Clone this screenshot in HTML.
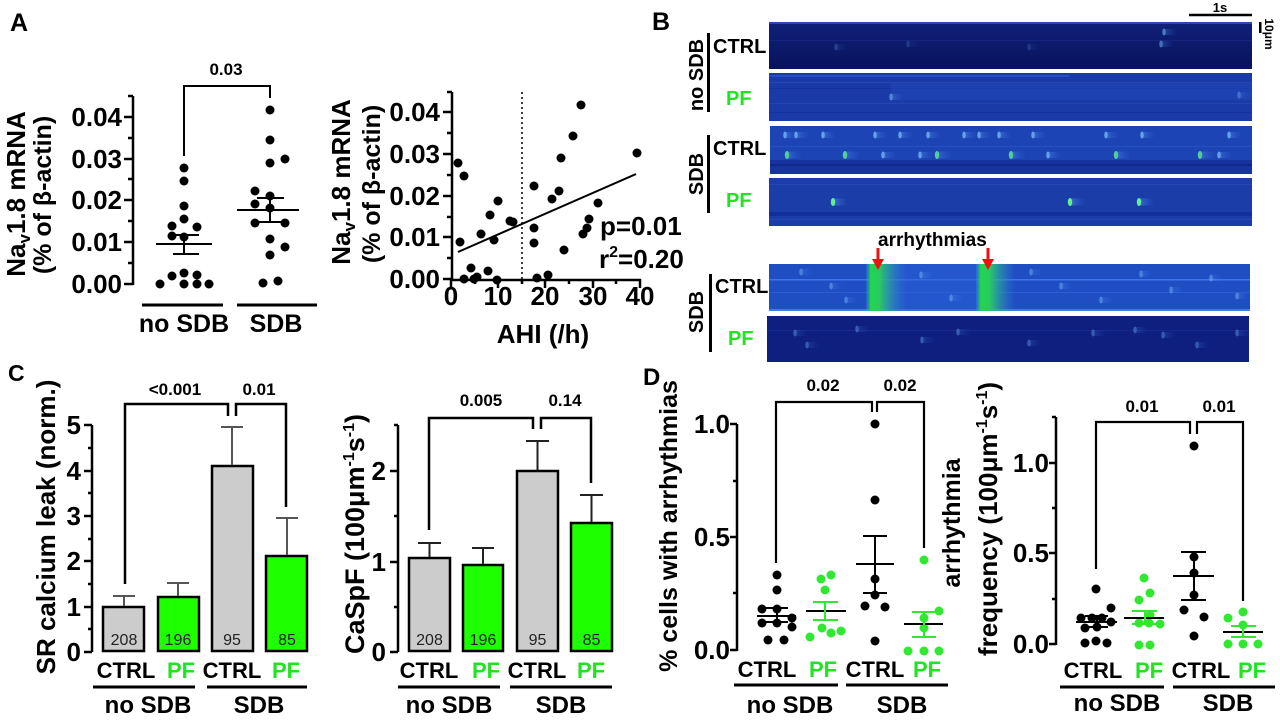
<!DOCTYPE html>
<html><head><meta charset="utf-8">
<style>
html,body{margin:0;padding:0;background:#fff;}
svg{display:block;}
text{font-family:"Liberation Sans",Arial,sans-serif;font-weight:bold;fill:#000;}
.g{fill:#22e322;}
.n{font-weight:normal;fill:#222;font-size:16px;}
</style></head><body>
<svg width="1280" height="720" viewBox="0 0 1280 720" xmlns="http://www.w3.org/2000/svg">
<defs>
<linearGradient id="tl" x1="0" x2="1"><stop offset="0" stop-color="#70b0ff" stop-opacity=".45"/><stop offset="1" stop-color="#4080ff" stop-opacity="0"/></linearGradient>
<g id="sp"><rect x="0" y="-3" width="14" height="6" fill="url(#tl)"/><ellipse cx="1" cy="0" rx="1.8" ry="3.5" fill="#7cc4ff" opacity=".85"/></g>
<g id="spg"><rect x="0" y="-3.5" width="16" height="7" fill="url(#tl)"/><ellipse cx="1" cy="0" rx="2.2" ry="4" fill="#60f090"/></g>
<linearGradient id="band" x1="0" x2="1"><stop offset="0" stop-color="#30a0e0" stop-opacity="0.2"/><stop offset=".12" stop-color="#20d848"/><stop offset=".35" stop-color="#28c868"/><stop offset="1" stop-color="#3080e0" stop-opacity="0"/></linearGradient>
<linearGradient id="i1" x1="0" y1="0" x2="0" y2="1"><stop offset="0" stop-color="#11217a"/><stop offset="1" stop-color="#08135c"/></linearGradient>
</defs>

<!-- Panel labels -->
<text x="10" y="31" font-size="25">A</text>
<text x="652" y="30" font-size="25">B</text>
<text x="8" y="381" font-size="23">C</text>
<text x="643" y="385" font-size="24">D</text>

<!-- ============ Panel A left ============ -->
<g stroke="#000" stroke-width="2.5" fill="none">
<path d="M133,96 V285"/>
<path d="M124,117 H133 M124,159 H133 M124,200 H133 M124,242 H133 M124,284 H133"/>
<path d="M128,96 H133 M128,138 H133 M128,179 H133 M128,221 H133 M128,263 H133"/>
<path d="M142,305 H223 M237,305 H317" stroke-width="3"/>
<path d="M184,156 V86 H270 V98" stroke-width="2"/>
</g>
<g font-size="26" text-anchor="end">
<text x="122" y="126">0.04</text><text x="122" y="168">0.03</text><text x="122" y="209">0.02</text><text x="122" y="251">0.01</text><text x="122" y="293">0.00</text>
</g>
<text transform="translate(25,194) rotate(-90)" text-anchor="middle" font-size="26">Na<tspan font-size="17" dy="5">v</tspan><tspan dy="-5">1.8 mRNA</tspan></text>
<text transform="translate(51,195) rotate(-90)" text-anchor="middle" font-size="25">(% of β-actin)</text>
<text x="226" y="75" font-size="17" text-anchor="middle">0.03</text>
<text x="184" y="332" font-size="25" text-anchor="middle">no SDB</text>
<text x="276" y="332" font-size="25" text-anchor="middle">SDB</text>
<g fill="#000">
<circle cx="184" cy="168" r="4.5"/><circle cx="184" cy="181" r="4.5"/><circle cx="184" cy="206" r="4.5"/><circle cx="184" cy="219" r="4.5"/><circle cx="172" cy="226" r="4.5"/><circle cx="197" cy="227" r="4.5"/><circle cx="172" cy="236" r="4.5"/><circle cx="184" cy="237" r="4.5"/><circle cx="172" cy="276" r="4.5"/><circle cx="184" cy="273" r="4.5"/><circle cx="197" cy="275" r="4.5"/><circle cx="160" cy="284" r="4.5"/><circle cx="184" cy="284" r="4.5"/><circle cx="197" cy="284" r="4.5"/><circle cx="209" cy="284" r="4.5"/>
<circle cx="270" cy="110" r="4.5"/><circle cx="270" cy="140" r="4.5"/><circle cx="270" cy="163" r="4.5"/><circle cx="285" cy="159" r="4.5"/><circle cx="255" cy="191" r="4.5"/><circle cx="270" cy="196" r="4.5"/><circle cx="255" cy="204" r="4.5"/><circle cx="270" cy="208" r="4.5"/><circle cx="255" cy="223" r="4.5"/><circle cx="285" cy="223" r="4.5"/><circle cx="270" cy="239" r="4.5"/><circle cx="285" cy="247" r="4.5"/><circle cx="270" cy="255" r="4.5"/><circle cx="263" cy="283" r="4.5"/><circle cx="278" cy="281" r="4.5"/>
</g>
<g stroke="#000" stroke-width="2" fill="none">
<path d="M156,244 H212 M173,235 H199 M173,254 H199 M184,235 V254"/>
<path d="M237,210 H299 M257,198 H284 M257,222 H284 M270,198 V222"/>
</g>

<!-- ============ Panel A right ============ -->
<g stroke="#000" stroke-width="2.5" fill="none">
<path d="M452,92 V280 H641"/>
<path d="M443,112 H452 M443,154 H452 M443,196 H452 M443,237 H452 M443,279 H452"/>
<path d="M447,92 H452 M447,133 H452 M447,175 H452 M447,217 H452 M447,258 H452"/>
<path d="M451,279 V288 M498,279 V288 M545,279 V288 M593,279 V288 M640,279 V288"/>
<path d="M475,279 V284 M522,279 V284 M569,279 V284 M616,279 V284"/>
<path d="M458,252 L636,174" stroke-width="2"/>
<path d="M522,92 V279" stroke-width="1.5" stroke-dasharray="2,3"/>
</g>
<g font-size="26" text-anchor="end">
<text x="440" y="121">0.04</text><text x="440" y="163">0.03</text><text x="440" y="205">0.02</text><text x="440" y="246">0.01</text><text x="440" y="288">0.00</text>
</g>
<g font-size="26" text-anchor="middle">
<text x="451" y="305">0</text><text x="498" y="305">10</text><text x="545" y="305">20</text><text x="593" y="305">30</text><text x="640" y="305">40</text>
</g>
<text x="543" y="343" font-size="26" text-anchor="middle">AHI (/h)</text>
<text transform="translate(350,182) rotate(-90)" text-anchor="middle" font-size="26">Na<tspan font-size="17" dy="5">v</tspan><tspan dy="-5">1.8 mRNA</tspan></text>
<text transform="translate(380,184) rotate(-90)" text-anchor="middle" font-size="25">(% of β-actin)</text>
<text x="600" y="235" font-size="26">p=0.01</text>
<text x="599" y="268" font-size="26">r<tspan font-size="16" dy="-11">2</tspan><tspan dy="11">=0.20</tspan></text>
<g fill="#000">
<circle cx="458" cy="163" r="4.5"/><circle cx="464" cy="176" r="4.5"/><circle cx="460" cy="242" r="4.5"/><circle cx="471" cy="268" r="4.5"/><circle cx="464" cy="279" r="4.5"/><circle cx="474" cy="279" r="4.5"/><circle cx="477" cy="277" r="4.5"/><circle cx="488" cy="271" r="4.5"/><circle cx="497" cy="280" r="4.5"/><circle cx="481" cy="234" r="4.5"/><circle cx="490" cy="215" r="4.5"/><circle cx="494" cy="240" r="4.5"/><circle cx="498" cy="201" r="4.5"/><circle cx="510" cy="221" r="4.5"/><circle cx="513" cy="222" r="4.5"/><circle cx="534" cy="186" r="4.5"/><circle cx="534" cy="228" r="4.5"/><circle cx="534" cy="243" r="4.5"/><circle cx="537" cy="278" r="4.5"/><circle cx="548" cy="275" r="4.5"/><circle cx="552" cy="199" r="4.5"/><circle cx="559" cy="191" r="4.5"/><circle cx="561" cy="158" r="4.5"/><circle cx="564" cy="250" r="4.5"/><circle cx="573" cy="136" r="4.5"/><circle cx="581" cy="105" r="4.5"/><circle cx="583" cy="234" r="4.5"/><circle cx="587" cy="228" r="4.5"/><circle cx="589" cy="219" r="4.5"/><circle cx="598" cy="203" r="4.5"/><circle cx="637" cy="153" r="4.5"/>
</g>

<!-- ============ Panel B ============ -->
<!-- image 1 -->
<rect x="769" y="22" width="483" height="47" fill="url(#i1)"/>
<rect x="769" y="22" width="483" height="2" fill="#2a48b0"/>
<rect x="769" y="40" width="483" height="1" fill="#1a2c88" opacity=".6"/>
<use href="#sp" x="1163" y="32" opacity=".6"/><use href="#sp" x="1160" y="44" opacity=".55"/>
<use href="#sp" x="835" y="47" opacity=".25"/><use href="#sp" x="907" y="44" opacity=".2"/><use href="#sp" x="1028" y="47" opacity=".2"/>
<!-- image 2 -->
<rect x="769" y="73" width="483" height="48" fill="#1a3aa8"/>
<rect x="769" y="75" width="300" height="2" fill="#3058c8" opacity=".7"/>
<rect x="769" y="82" width="483" height="1" fill="#2a50c0" opacity=".6"/>
<rect x="769" y="88" width="483" height="1" fill="#12309a" opacity=".7"/>
<rect x="769" y="103" width="483" height="1" fill="#2a50c0" opacity=".5"/>
<rect x="769" y="112" width="483" height="1" fill="#12309a" opacity=".7"/>
<rect x="891" y="82" width="361" height="18" fill="#2048b8" opacity=".5"/>
<use href="#sp" x="890" y="97" opacity=".6"/><use href="#sp" x="1238" y="95" opacity=".4"/>
<!-- image 3 -->
<rect x="770" y="126" width="482" height="48" fill="#1d44b4"/>
<rect x="770" y="160" width="482" height="14" fill="#1733a0"/>
<rect x="770" y="164" width="482" height="2" fill="#10288a"/>
<rect x="770" y="146" width="482" height="1" fill="#2a58c8" opacity=".6"/>
<g opacity=".8">
<use href="#sp" x="784" y="135"/><use href="#sp" x="795" y="135"/><use href="#sp" x="822" y="135"/><use href="#sp" x="874" y="135"/><use href="#sp" x="899" y="135"/><use href="#sp" x="927" y="135"/><use href="#sp" x="963" y="135"/><use href="#sp" x="978" y="135"/><use href="#sp" x="998" y="135"/><use href="#sp" x="1032" y="135"/><use href="#sp" x="1105" y="135"/><use href="#sp" x="1141" y="135"/><use href="#sp" x="1228" y="135"/>
<use href="#spg" x="786" y="155"/><use href="#spg" x="844" y="155"/><use href="#sp" x="882" y="155"/><use href="#sp" x="919" y="155"/><use href="#spg" x="936" y="155"/><use href="#spg" x="1010" y="155"/><use href="#sp" x="1047" y="155"/><use href="#spg" x="1115" y="155"/><use href="#spg" x="1199" y="155"/><use href="#sp" x="1218" y="155"/>
</g>
<!-- image 4 -->
<rect x="769" y="178" width="483" height="48" fill="#1b3da8"/>
<rect x="769" y="184" width="483" height="1" fill="#2a50c0" opacity=".6"/>
<rect x="769" y="212" width="483" height="4" fill="#13309a"/>
<rect x="769" y="219" width="483" height="1" fill="#2a50c0" opacity=".6"/>
<use href="#spg" x="832" y="202"/><use href="#spg" x="1069" y="202"/><use href="#spg" x="1138" y="202"/>
<!-- image 5 -->
<rect x="769" y="264" width="481" height="47" fill="#1f4dc2"/>
<rect x="769" y="279" width="481" height="1.5" fill="#4a86ff" opacity=".7"/>
<rect x="769" y="292" width="481" height="1" fill="#2f62d8" opacity=".7"/>
<rect x="769" y="309" width="481" height="2" fill="#3a80e0"/>
<rect x="885" y="264" width="100" height="47" fill="#2a62d8" opacity=".5"/>
<rect x="866" y="264" width="40" height="47" fill="url(#band)"/>
<rect x="976" y="264" width="40" height="47" fill="url(#band)"/>
<g opacity=".5">
<use href="#sp" x="800" y="272"/><use href="#sp" x="830" y="286"/><use href="#sp" x="845" y="300"/><use href="#sp" x="920" y="275"/><use href="#sp" x="950" y="298"/><use href="#sp" x="1030" y="272"/><use href="#sp" x="1060" y="286"/><use href="#sp" x="1100" y="300"/><use href="#sp" x="1140" y="274"/><use href="#sp" x="1170" y="290"/><use href="#sp" x="1210" y="278"/><use href="#sp" x="1236" y="296"/>
</g>
<!-- image 6 -->
<rect x="767" y="316" width="482" height="46" fill="#0e1f80"/>
<rect x="767" y="330" width="482" height="1" fill="#1a3098" opacity=".6"/>
<g opacity=".4">
<use href="#sp" x="794" y="333"/><use href="#sp" x="806" y="345"/><use href="#sp" x="856" y="329"/><use href="#sp" x="921" y="340"/><use href="#sp" x="957" y="332"/><use href="#sp" x="1028" y="343"/><use href="#sp" x="1092" y="333"/><use href="#sp" x="1134" y="330"/><use href="#sp" x="1162" y="335"/><use href="#sp" x="1196" y="345"/><use href="#sp" x="1236" y="333"/>
</g>
<!-- B labels -->
<text transform="translate(703,75) rotate(-90)" text-anchor="middle" font-size="20">no SDB</text>
<rect x="707" y="33" width="3" height="79" fill="#000"/>
<text x="713" y="53" font-size="20">CTRL</text>
<text x="726" y="105" font-size="20" class="g">PF</text>
<text transform="translate(703,174) rotate(-90)" text-anchor="middle" font-size="20">SDB</text>
<rect x="707" y="135" width="3" height="78" fill="#000"/>
<text x="713" y="155" font-size="20">CTRL</text>
<text x="726" y="207" font-size="20" class="g">PF</text>
<text transform="translate(703,312) rotate(-90)" text-anchor="middle" font-size="20">SDB</text>
<rect x="709" y="274" width="3" height="78" fill="#000"/>
<text x="715" y="293" font-size="20">CTRL</text>
<text x="728" y="345" font-size="20" class="g">PF</text>
<text x="878" y="246" font-size="19">arrhythmias</text>
<g fill="#ee1111">
<rect x="876.5" y="248" width="3" height="12"/><polygon points="872,259 884,259 878,270"/>
<rect x="986.5" y="248" width="3" height="12"/><polygon points="982,259 994,259 988,270"/>
</g>
<path d="M1189,15 H1252" stroke="#000" stroke-width="2.5"/>
<text x="1220" y="12" font-size="13" text-anchor="middle">1s</text>
<rect x="1259" y="22" width="2.5" height="11" fill="#000"/>
<text transform="translate(1265,34) rotate(90)" text-anchor="middle" font-size="12">10μm</text>

<!-- ============ Panel C left ============ -->
<g stroke="#000" stroke-width="2.5" fill="none">
<path d="M92,425 V652"/>
<path d="M84,425 H92 M84,471 H92 M84,516 H92 M84,561 H92 M84,607 H92 M84,652 H92"/>
<path d="M88,448 H92 M88,493 H92 M88,539 H92 M88,584 H92 M88,629 H92"/>
<path d="M93,687 H195 M207,687 H307" stroke-width="3"/>
<path d="M125,584 V404 H228 V416 M236,416 V404 H286 V507"/>
</g>
<g stroke="#000" stroke-width="2.5">
<rect x="103" y="607" width="41" height="44" fill="#cccccc"/>
<rect x="158" y="597" width="41" height="54" fill="#1eff00"/>
<rect x="212" y="466" width="41" height="185" fill="#cccccc"/>
<rect x="266" y="556" width="41" height="95" fill="#1eff00"/>
</g>
<g stroke="#555" stroke-width="2" fill="none">
<path d="M124,606 V596 M113,596 H135"/>
<path d="M178,596 V583 M167,583 H189"/>
<path d="M232,465 V427 M221,427 H243"/>
<path d="M287,555 V518 M276,518 H298"/>
</g>
<g font-size="26" text-anchor="end">
<text x="81" y="434">5</text><text x="81" y="480">4</text><text x="81" y="525">3</text><text x="81" y="570">2</text><text x="81" y="616">1</text><text x="81" y="661">0</text>
</g>
<g text-anchor="middle">
<text class="n" x="124" y="645">208</text><text class="n" x="178" y="645">196</text><text class="n" x="232" y="645">95</text><text class="n" x="287" y="645">85</text>
<text x="175" y="395" font-size="17">&lt;0.001</text><text x="259" y="395" font-size="17">0.01</text>
<text x="126" y="678" font-size="22">CTRL</text><text x="181" y="678" font-size="22" class="g">PF</text><text x="232" y="678" font-size="22">CTRL</text><text x="286" y="678" font-size="22" class="g">PF</text>
<text x="148" y="713" font-size="24">no SDB</text><text x="259" y="713" font-size="24">SDB</text>
</g>
<text transform="translate(55,527) rotate(-90)" text-anchor="middle" font-size="26">SR calcium leak (norm.)</text>

<!-- ============ Panel C right ============ -->
<g stroke="#000" stroke-width="2.5" fill="none">
<path d="M398,425 V652"/>
<path d="M390,471 H398 M390,562 H398 M390,652 H398"/>
<path d="M394,425 H398 M394,516 H398 M394,607 H398"/>
<path d="M398,687 H500 M510,687 H612" stroke-width="3"/>
<path d="M429,530 V418 H533 V429 M541,429 V418 H591 V483"/>
</g>
<g stroke="#000" stroke-width="2.5">
<rect x="409" y="558" width="41" height="93" fill="#cccccc"/>
<rect x="463" y="565" width="40" height="86" fill="#1eff00"/>
<rect x="517" y="471" width="41" height="180" fill="#cccccc"/>
<rect x="571" y="523" width="41" height="128" fill="#1eff00"/>
</g>
<g stroke="#222" stroke-width="2" fill="none">
<path d="M429.5,557 V543 M418,543 H441"/>
<path d="M483,564 V548 M472,548 H494"/>
<path d="M537.5,470 V441 M526,441 H549"/>
<path d="M591.5,522 V495 M580,495 H603"/>
</g>
<g font-size="26" text-anchor="end">
<text x="386" y="480">2</text><text x="386" y="571">1</text><text x="386" y="661">0</text>
</g>
<g text-anchor="middle">
<text class="n" x="429.5" y="645">208</text><text class="n" x="483" y="645">196</text><text class="n" x="537.5" y="645">95</text><text class="n" x="591.5" y="645">85</text>
<text x="481" y="406" font-size="17">0.005</text><text x="565" y="406" font-size="17">0.14</text>
<text x="429" y="678" font-size="22">CTRL</text><text x="486" y="678" font-size="22" class="g">PF</text><text x="537" y="678" font-size="22">CTRL</text><text x="591" y="678" font-size="22" class="g">PF</text>
<text x="449" y="713" font-size="24">no SDB</text><text x="561" y="713" font-size="24">SDB</text>
</g>
<text transform="translate(364,534) rotate(-90)" text-anchor="middle" font-size="27">CaSpF (100μm<tspan font-size="16" dy="-10">-1</tspan><tspan dy="10">s</tspan><tspan font-size="16" dy="-10">-1</tspan><tspan dy="10">)</tspan></text>

<!-- ============ Panel D left ============ -->
<g stroke="#000" stroke-width="2.5" fill="none">
<path d="M737,424 V651"/>
<path d="M730,424 H737 M730,537 H737 M730,650 H737"/>
<path d="M733,481 H737 M733,593 H737"/>
<path d="M734,685 H838 M846,685 H948" stroke-width="3"/>
<path d="M776,563 V402 H872 V412 M877,412 V402 H924 V548" stroke-width="2.2"/>
</g>
<g font-size="26" text-anchor="end">
<text x="730" y="433">1.0</text><text x="730" y="546">0.5</text><text x="730" y="659">0.0</text>
</g>
<g fill="#000">
<circle cx="777" cy="575" r="4.5"/><circle cx="777" cy="590" r="4.5"/><circle cx="762" cy="609" r="4.5"/><circle cx="777" cy="609" r="4.5"/><circle cx="762" cy="623" r="4.5"/><circle cx="792" cy="618" r="4.5"/><circle cx="777" cy="623" r="4.5"/><circle cx="792" cy="627" r="4.5"/><circle cx="768" cy="640" r="4.5"/><circle cx="784" cy="640" r="4.5"/>
<circle cx="875" cy="424" r="4.5"/><circle cx="875" cy="500" r="4.5"/><circle cx="875" cy="579" r="4.5"/><circle cx="875" cy="595" r="4.5"/><circle cx="865" cy="606" r="4.5"/><circle cx="885" cy="607" r="4.5"/><circle cx="875" cy="641" r="4.5"/>
</g>
<g fill="#30e830">
<circle cx="821" cy="579" r="4.5"/><circle cx="831" cy="575" r="4.5"/><circle cx="825" cy="590" r="4.5"/><circle cx="810" cy="637" r="4.5"/><circle cx="822" cy="628" r="4.5"/><circle cx="831" cy="633" r="4.5"/><circle cx="841" cy="631" r="4.5"/>
<circle cx="924" cy="560" r="4.5"/><circle cx="924" cy="618" r="4.5"/><circle cx="939" cy="611" r="4.5"/><circle cx="924" cy="628" r="4.5"/><circle cx="908" cy="651" r="4.5"/><circle cx="924" cy="651" r="4.5"/><circle cx="939" cy="651" r="4.5"/>
</g>
<g stroke="#000" stroke-width="2" fill="none">
<path d="M757,616 H796 M765,608 H788 M765,622 H788 M777,608 V622"/>
<path d="M856,564 H894 M863,536 H887 M863,593 H887 M875,536 V593"/>
<path d="M806,611 H846"/><path d="M904,624 H943"/>
</g>
<g stroke="#30e830" stroke-width="2" fill="none">
<path d="M813,602 H838 M813,620 H838 M825,602 V620"/>
<path d="M912,612 H936 M912,637 H936 M924,612 V637"/>
</g>
<g text-anchor="middle">
<text x="823" y="391" font-size="17">0.02</text><text x="900" y="391" font-size="17">0.02</text>
<text x="767" y="677" font-size="22">CTRL</text><text x="823" y="677" font-size="22" class="g">PF</text><text x="875" y="677" font-size="22">CTRL</text><text x="927" y="677" font-size="22" class="g">PF</text>
<text x="790" y="713" font-size="24">no SDB</text><text x="902" y="713" font-size="24">SDB</text>
</g>
<text transform="translate(677,526) rotate(-90)" text-anchor="middle" font-size="25">% cells with arrhythmias</text>

<!-- ============ Panel D right ============ -->
<g stroke="#000" stroke-width="2.5" fill="none">
<path d="M1056,417 V645"/>
<path d="M1049,463 H1056 M1049,553 H1056 M1049,644 H1056"/>
<path d="M1052,417 H1056 M1052,508 H1056 M1052,599 H1056"/>
<path d="M1060,687 H1164 M1173,687 H1275" stroke-width="3"/>
<path d="M1096,569 V422 H1190 V434 M1197,434 V422 H1243 V601" stroke-width="2.2"/>
</g>
<g font-size="26" text-anchor="end">
<text x="1049" y="472">1.0</text><text x="1049" y="562">0.5</text><text x="1049" y="653">0.0</text>
</g>
<g fill="#000">
<circle cx="1096" cy="589" r="4.5"/><circle cx="1111" cy="608" r="4.5"/><circle cx="1081" cy="618" r="4.5"/><circle cx="1092" cy="618" r="4.5"/><circle cx="1102" cy="618" r="4.5"/><circle cx="1111" cy="622" r="4.5"/><circle cx="1085" cy="628" r="4.5"/><circle cx="1097" cy="627" r="4.5"/><circle cx="1085" cy="643" r="4.5"/><circle cx="1096" cy="641" r="4.5"/><circle cx="1107" cy="643" r="4.5"/>
<circle cx="1194" cy="446" r="4.5"/><circle cx="1194" cy="557" r="4.5"/><circle cx="1194" cy="573" r="4.5"/><circle cx="1194" cy="595" r="4.5"/><circle cx="1184" cy="610" r="4.5"/><circle cx="1204" cy="617" r="4.5"/><circle cx="1194" cy="636" r="4.5"/>
</g>
<g fill="#30e830">
<circle cx="1144" cy="578" r="4.5"/><circle cx="1150" cy="593" r="4.5"/><circle cx="1139" cy="600" r="4.5"/><circle cx="1150" cy="615" r="4.5"/><circle cx="1139" cy="623" r="4.5"/><circle cx="1160" cy="624" r="4.5"/><circle cx="1149" cy="623" r="4.5"/><circle cx="1139" cy="645" r="4.5"/><circle cx="1150" cy="645" r="4.5"/>
<circle cx="1228" cy="618" r="4.5"/><circle cx="1243" cy="612" r="4.5"/><circle cx="1243" cy="625" r="4.5"/><circle cx="1228" cy="644" r="4.5"/><circle cx="1243" cy="644" r="4.5"/><circle cx="1258" cy="644" r="4.5"/>
</g>
<g stroke="#000" stroke-width="2" fill="none">
<path d="M1076,622 H1117 M1085,616 H1108 M1085,627 H1108 M1097,616 V627"/>
<path d="M1173,576 H1214 M1181,552 H1206 M1181,600 H1206 M1194,552 V600"/>
<path d="M1124,618 H1164"/><path d="M1223,632 H1263"/>
</g>
<g stroke="#30e830" stroke-width="2" fill="none">
<path d="M1132,611 H1157 M1132,624 H1157 M1145,611 V624"/>
<path d="M1231,626 H1256 M1231,637 H1256 M1243,626 V637"/>
</g>
<g text-anchor="middle">
<text x="1142" y="412" font-size="17">0.01</text><text x="1219" y="412" font-size="17">0.01</text>
<text x="1093" y="678" font-size="22">CTRL</text><text x="1149" y="678" font-size="22" class="g">PF</text><text x="1201" y="678" font-size="22">CTRL</text><text x="1252" y="678" font-size="22" class="g">PF</text>
<text x="1117" y="711" font-size="24">no SDB</text><text x="1228" y="711" font-size="24">SDB</text>
</g>
<text transform="translate(960,523) rotate(-90)" text-anchor="middle" font-size="25">arrhythmia</text>
<text transform="translate(997,519) rotate(-90)" text-anchor="middle" font-size="26">frequency (100μm<tspan font-size="16" dy="-10">-1</tspan><tspan dy="10">s</tspan><tspan font-size="16" dy="-10">-1</tspan><tspan dy="10">)</tspan></text>
</svg>
</body></html>
